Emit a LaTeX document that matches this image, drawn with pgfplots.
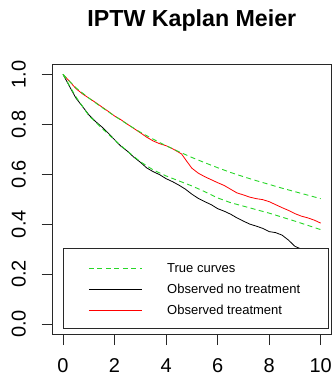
\documentclass[border=0pt]{standalone}
\usepackage{fontspec}
\setmainfont{Liberation Sans}
\usepackage{pgfplots}
\usepackage{pgfplotstable}
\pgfplotsset{compat=1.18}
\definecolor{rgreen}{RGB}{40,215,40}
\definecolor{rred}{RGB}{255,0,0}
\definecolor{axgray}{RGB}{40,40,40}

\pgfplotstableread{
t s
0 1.000
0.25 0.972
0.5 0.946
1 0.905
1.5 0.868
2 0.833
2.5 0.800
3 0.768
3.5 0.740
4 0.714
4.5 0.690
5 0.667
5.5 0.646
6 0.626
6.5 0.607
7 0.590
7.5 0.574
8 0.559
8.5 0.544
9 0.530
9.5 0.516
10 0.502
}\trueone

\pgfplotstableread{
t s
0 1.000
0.25 0.955
0.5 0.910
1 0.835
1.5 0.785
2 0.737
2.5 0.692
3 0.650
3.5 0.617
4 0.593
4.5 0.573
5 0.553
5.5 0.530
6 0.505
6.5 0.486
7 0.472
7.5 0.458
8 0.444
8.5 0.428
9 0.412
9.5 0.395
10 0.378
}\truezero

\pgfplotstableread{
t s
0 1.000
0.25 0.952
0.5 0.905
0.75 0.872
1 0.838
1.25 0.812
1.5 0.790
1.75 0.765
2 0.738
2.25 0.712
2.5 0.692
2.75 0.668
3 0.648
3.25 0.625
3.5 0.610
3.75 0.598
4 0.582
4.25 0.570
4.5 0.556
4.75 0.540
5 0.520
5.25 0.503
5.5 0.490
5.75 0.478
6 0.462
6.25 0.452
6.5 0.440
6.75 0.425
7 0.412
7.25 0.400
7.5 0.392
7.75 0.383
8 0.370
8.25 0.366
8.5 0.356
8.75 0.336
9 0.311
9.25 0.300
9.5 0.285
9.75 0.270
10 0.255
}\obszero

\pgfplotstableread{
t s
0 1.000
0.25 0.972
0.5 0.943
0.75 0.922
1 0.905
1.25 0.888
1.5 0.870
1.75 0.852
2 0.833
2.25 0.818
2.5 0.800
2.75 0.783
3 0.766
3.25 0.748
3.5 0.733
3.75 0.722
4 0.714
4.25 0.702
4.4 0.693
4.6 0.681
4.8 0.652
5 0.624
5.25 0.604
5.5 0.590
5.75 0.578
6 0.566
6.25 0.555
6.5 0.540
6.75 0.525
7 0.517
7.25 0.508
7.5 0.502
7.75 0.498
8 0.490
8.25 0.478
8.5 0.466
8.75 0.455
9 0.442
9.25 0.432
9.5 0.425
9.75 0.416
10 0.404
}\obsone

\begin{document}
\begin{tikzpicture}
\useasboundingbox (-52.7bp,-43bp) rectangle (280.3bp,334bp);
\begin{axis}[
 at={(0,0)}, anchor=south west,
 width=278.3bp, height=269.7bp, scale only axis,
 xmin=-0.4, xmax=10.4, ymin=-0.04, ymax=1.04,
 axis line style={line width=0.8bp, draw=axgray},
 xtick={0,2,4,6,8,10}, xticklabels={0,2,4,6,8,10},
 ytick={0,0.2,0.4,0.6,0.8,1}, yticklabels={0.0,0.2,0.4,0.6,0.8,1.0},
 xtick pos=bottom, ytick pos=left, tick align=outside,
 major tick length=11bp, tick style={line width=0.8bp, draw=axgray},
 ticklabel style={font=\fontsize{20bp}{20bp}\selectfont, text=black},
 xticklabel style={anchor=base, yshift=-27.5bp},
 yticklabel style={rotate=90, anchor=base},
 yticklabel shift=16bp,
 title={IPTW Kaplan Meier},
 title style={font=\bfseries\fontsize{23.2bp}{24bp}\selectfont, at={(0.5,1)}, anchor=base, yshift=32.3bp},
 clip=true,
]
\addplot[black, line width=0.8bp, line join=round] table[x=t,y=s] {\obszero};
\addplot[rred, line width=0.8bp, line join=round] table[x=t,y=s] {\obsone};
\addplot[rgreen, line width=0.9bp, dash pattern=on 5bp off 3.5bp] table[x=t,y=s] {\trueone};
\addplot[rgreen, line width=0.9bp, dash pattern=on 5bp off 3.5bp] table[x=t,y=s] {\truezero};
\draw[axgray, line width=0.8bp, fill=white] (axis cs:0,0.304) rectangle (axis cs:10.29,-0.016);
\draw[rgreen, line width=0.9bp, dash pattern=on 5bp off 3.5bp] (axis cs:1.006,0.2228) -- (axis cs:3.07,0.2228);
\draw[black, line width=0.8bp] (axis cs:1.006,0.14) -- (axis cs:3.07,0.14);
\draw[rred, line width=0.8bp] (axis cs:1.006,0.056) -- (axis cs:3.07,0.056);
\node[anchor=west, font=\fontsize{13bp}{13bp}\selectfont, inner sep=0pt] at (axis cs:4.035,0.2228) {True curves};
\node[anchor=west, font=\fontsize{13bp}{13bp}\selectfont, inner sep=0pt] at (axis cs:4.035,0.14) {Observed no treatment};
\node[anchor=west, font=\fontsize{13bp}{13bp}\selectfont, inner sep=0pt] at (axis cs:4.035,0.056) {Observed treatment};
\end{axis}
\end{tikzpicture}
\end{document}
